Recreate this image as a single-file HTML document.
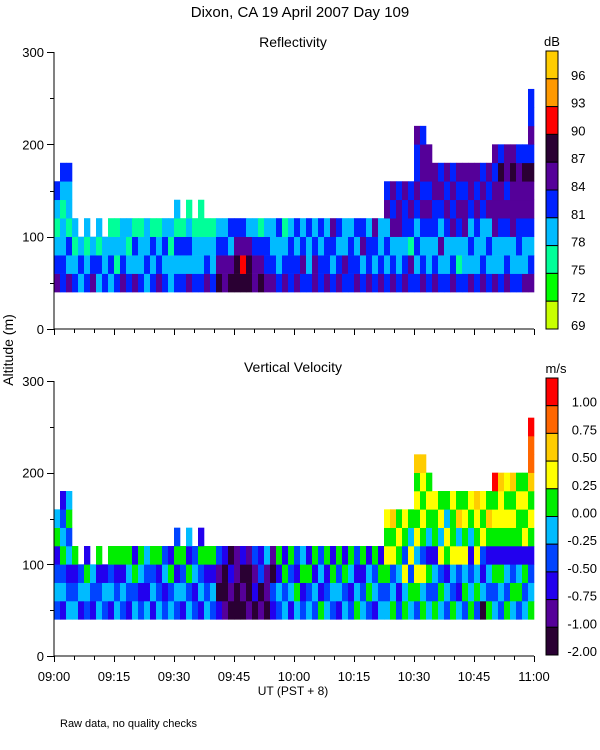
<!DOCTYPE html>
<html><head><meta charset="utf-8"><style>
body{margin:0;background:#fff}
svg{display:block;font-family:"Liberation Sans",sans-serif}
</style></head><body>
<svg id="c" width="600" height="750" viewBox="0 0 600 750" xmlns="http://www.w3.org/2000/svg">
<text x="300" y="17" text-anchor="middle" font-size="15">Dixon, CA 19 April 2007  Day 109</text>
<text x="293" y="47" text-anchor="middle" font-size="14">Reflectivity</text>
<text x="293" y="372" text-anchor="middle" font-size="14">Vertical Velocity</text>
<text transform="translate(13,350) rotate(-90)" text-anchor="middle" font-size="14">Altitude (m)</text>
<text x="293" y="695" text-anchor="middle" font-size="12">UT  (PST + 8)</text>
<text x="60" y="727" font-size="11">Raw data, no quality checks</text>
<text x="552" y="46" text-anchor="middle" font-size="13">dB</text>
<text x="556" y="373" text-anchor="middle" font-size="13">m/s</text>
<g id="g"></g>
</svg>
<script>
// time axis: minutes after 09:00, column step
const colStep = 1.5;
const xTickLabels = ["09:00","09:15","09:30","09:45","10:00","10:15","10:30","10:45","11:00"];
const yTickLabels = ["0","100","200","300"];
const binBase = 40, binSize = 20;
const reflLabels = ["96","93","90","87","84","81","78","75","72","69"];
const reflColors = ["#c8ff00","#00ff00","#00ff99","#00bbff","#0022ff","#550099","#2a0033","#ff0000","#ff9900","#ffcc00"];
const velLabels = ["1.00","0.75","0.50","0.25","0.00","-0.25","-0.50","-0.75","-1.00","-2.00"];
const velColors = ["#2a0033","#550099","#2200ee","#0044ff","#00bbff","#00ee00","#ffff00","#ffcc00","#ff6600","#ff0000"];
// per column: digit per 20 m bin (bottom to top), index into colour scale
const reflCols = ["543234","4433234","5342334","4323","343","4323","543","3423","433","3432",
"4232","5433","4323","5342","4332","3433","4342","5432","4343","3323",
"43423","4342","53432","4332","43322","5432","4332","6543","5543","6534",
"6654","6754","6653","5543","6542","5443","5433","4334","5432","4443",
"5434","4543","4334","5543","4434","5443","4345","5434","4533","4443",
"5434","4354","5443","4345","5433","434354","543545","433554","543445","452454",
"434345445","543454554","43345455","5434455","4353454","4334545","5435454","4234545","4335545","5343455",
"4334545","5433454","4343545","53355545","43345564","54345455","43355565","43445554","53345564","54345564544"];
const velCols = ["343254","2435432","4324354","4325","243","3452","234","4325","342","2435",
"4325","3425","2345","4352","3245","4234","2435","4325","3243","4352",
"34253","2435","43524","3243","24352","4325","3425","2013","1002","0120",
"0011","0102","1001","0213","1032","0114","2301","3425","4352","2435",
"4523","3254","4352","3425","5243","4325","3452","2435","4352","3245",
"5423","4325","3542","2435","4352","435656","543657","324565","546356","453645",
"356465657","546356567","43524565","5342556","4536465","3425645","5346556","4236475","3546565","5432456",
"3546567","0423656","5342575","43525659","34525667","53425656","45325657","35425565","43526565","54325657889"];

const L=54,R=534,T0=0,T1=120;
const x = m => L + (m - T0) / (T1 - T0) * (R - L);
const panels = [
 {top:52,bot:329,cols:reflCols,colors:reflColors,labels:reflLabels,name:'reflectivity',cbTop:51,cbBot:329,labX:571,anchor:'start'},
 {top:381,bot:656,cols:velCols,colors:velColors,labels:velLabels,name:'velocity',cbTop:378,cbBot:655,labX:597,anchor:'end'}
];
const NS='http://www.w3.org/2000/svg';
const g=document.getElementById('g');
function mk(tag,attrs,parent){const e=document.createElementNS(NS,tag);for(const k in attrs)e.setAttribute(k,attrs[k]);(parent||g).appendChild(e);return e;}
panels.forEach(p=>{
 const y = a => p.bot - a/300*(p.bot-p.top);
 const grp=mk('g',{});
 
 
 p.cols.forEach((s,i)=>{
  const x0=x(i*colStep), x1=x((i+1)*colStep);
  for(let b=0;b<s.length;b++){
   const a0=binBase+b*binSize;
   const r=mk('rect',{x:x0,y:y(a0+binSize),width:x1-x0+0.3,height:y(a0)-y(a0+binSize)+0.3,fill:p.colors[+s[b]]},grp);
   
   
  }
 });
 const ax=mk('path',{d:`M${L} ${p.top}V${p.bot}H${R}`,stroke:'#000',fill:'none','stroke-width':1});
 
 
 let d='';
 for(let m=0;m<=120;m+=5){const xx=Math.round(x(m))+0.5;d+=`M${xx} ${p.bot}v${m%15==0?6:4}`;}
 for(let a=0;a<=300;a+=50){const yy=Math.round(y(a))+0.5;d+=`M${L} ${yy}h${a%100==0?-7:-4}`;}
 mk('path',{d:d,stroke:'#000','stroke-width':1});
 yTickLabels.forEach((t,k)=>{
  const tx=mk('text',{x:L-10,y:y(+t)+5,'text-anchor':'end','font-size':13});
  tx.textContent=t;
  
  
 });
 const n=p.colors.length,h=(p.cbBot-p.cbTop)/n;
 for(let k=0;k<n;k++){
  const c=mk('rect',{x:546,y:p.cbTop+k*h,width:12,height:h,fill:p.colors[n-1-k],stroke:'#000','stroke-width':1});
  
  
  const tx=mk('text',{x:p.labX,y:p.cbTop+(k+1)*h+1,'text-anchor':p.anchor,'font-size':13});
  tx.textContent=p.labels[k];
  
  
 }
});
xTickLabels.forEach((t,k)=>{
 const tx=mk('text',{x:x(k*15),y:681,'text-anchor':'middle','font-size':13});
 tx.textContent=t;
 
 
});
</script>
</body></html>
